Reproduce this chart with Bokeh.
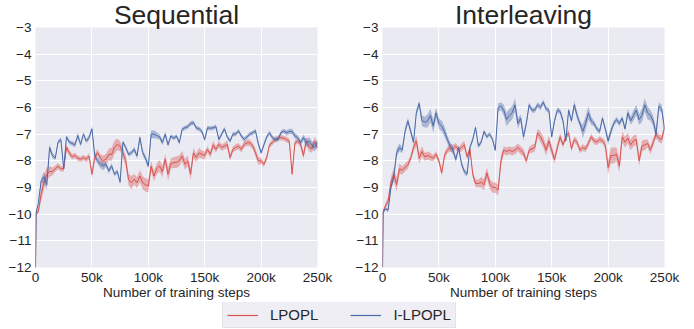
from bokeh.plotting import figure
from bokeh.layouts import column, row
from bokeh.models import FixedTicker, Legend, LegendItem, Range1d
from bokeh.embed import file_html
from bokeh.resources import INLINE

# ---------------- data ----------------
steps = [0, 500] + [2500 * i for i in range(1, 101)]

seq_lpopl = [-12, -9.95,
    -9.9, -9.25, -8.8, -8.5, -8.4, -8.4, -8.3, -8.2, -8.3, -8.3,
    -7.5, -7.7, -7.85, -7.8, -7.9, -7.94, -7.88, -7.94, -7.82, -8.5,
    -7.88, -7.69, -7.9, -8.0, -7.94, -7.76, -7.76, -7.5, -7.38, -7.45,
    -7.7, -8.0, -8.7, -8.82, -8.69, -8.82, -8.57, -8.82, -8.9, -8.94,
    -8.2, -8.57, -8.3, -8.19, -8.4, -7.94, -8.5, -8.1, -8.07, -8.05,
    -8.0, -7.82, -8.13, -8.0, -8.5, -7.7, -7.88, -7.7, -7.76, -7.8,
    -7.57, -7.76, -7.4, -7.57, -7.38, -7.5, -7.45, -7.38, -7.88, -7.57,
    -7.5, -7.45, -7.57, -7.38, -7.32, -7.32, -7.44, -7.69, -8.0, -8.0,
    -8.13, -7.88, -7.4, -7.32, -7.2, -7.15, -7.13, -7.15, -7.2, -7.26,
    -8.5, -7.32, -7.26, -7.38, -7.8, -7.26, -7.5, -7.55, -7.26, -7.5]
seq_lpopl_sd = [0.0, 0.05,
    0.1, 0.25, 0.3, 0.25, 0.2, 0.15, 0.12, 0.12, 0.1, 0.1,
    0.12, 0.12, 0.1, 0.1, 0.1, 0.1, 0.1, 0.1, 0.12, 0.15,
    0.15, 0.12, 0.15, 0.2, 0.2, 0.22, 0.25, 0.25, 0.22, 0.18,
    0.2, 0.2, 0.22, 0.25, 0.2, 0.2, 0.22, 0.25, 0.25, 0.25,
    0.2, 0.2, 0.2, 0.22, 0.22, 0.2, 0.25, 0.2, 0.2, 0.22,
    0.2, 0.2, 0.2, 0.2, 0.2, 0.18, 0.15, 0.18, 0.15, 0.15,
    0.12, 0.12, 0.15, 0.12, 0.12, 0.12, 0.12, 0.15, 0.12, 0.12,
    0.12, 0.12, 0.12, 0.12, 0.12, 0.12, 0.12, 0.15, 0.15, 0.12,
    0.1, 0.1, 0.1, 0.1, 0.1, 0.1, 0.1, 0.1, 0.1, 0.1,
    0.1, 0.1, 0.1, 0.12, 0.15, 0.15, 0.15, 0.15, 0.15, 0.15]

seq_ilpopl = [-12, -9.95,
    -9.6, -8.75, -8.6, -8.9, -7.5, -7.8, -7.9, -7.3, -7.2, -8.3,
    -7.1, -7.3, -7.35, -7.4, -7.05, -7.38, -7.0, -7.26, -7.13, -6.8,
    -7.8, -8.0, -8.13, -8.2, -8.13, -8.38, -8.19, -8.5, -8.4, -8.8,
    -7.3, -7.5, -7.76, -7.7, -7.57, -7.82, -7.13, -7.69, -7.9, -8.2,
    -7.0, -7.0, -7.05, -7.1, -7.32, -7.0, -7.4, -7.07, -7.15, -7.07,
    -7.32, -6.82, -6.76, -6.72, -6.6, -6.57, -6.76, -6.8, -6.9, -7.2,
    -6.76, -6.78, -6.76, -6.72, -7.2, -7.0, -6.8, -7.1, -7.26, -7.0,
    -7.0, -6.88, -7.07, -7.2, -7.1, -7.0, -6.95, -6.88, -7.35, -7.7,
    -7.4, -7.1, -6.95, -7.13, -7.2, -7.2, -6.95, -6.88, -6.95, -6.9,
    -6.9, -7.07, -7.13, -7.32, -7.13, -7.32, -7.26, -7.4, -7.5, -7.32]
seq_ilpopl_sd = [0.0, 0.05,
    0.05, 0.1, 0.2, 0.2, 0.12, 0.1, 0.08, 0.08, 0.08, 0.1,
    0.08, 0.08, 0.08, 0.1, 0.1, 0.08, 0.08, 0.08, 0.1, 0.1,
    0.1, 0.12, 0.15, 0.15, 0.1, 0.1, 0.1, 0.08, 0.08, 0.08,
    0.08, 0.08, 0.08, 0.08, 0.1, 0.1, 0.12, 0.1, 0.12, 0.12,
    0.15, 0.15, 0.12, 0.1, 0.1, 0.1, 0.08, 0.08, 0.08, 0.08,
    0.08, 0.08, 0.08, 0.08, 0.08, 0.08, 0.08, 0.08, 0.08, 0.08,
    0.08, 0.08, 0.08, 0.08, 0.08, 0.08, 0.08, 0.08, 0.08, 0.08,
    0.08, 0.08, 0.08, 0.08, 0.08, 0.08, 0.08, 0.08, 0.08, 0.08,
    0.08, 0.08, 0.08, 0.08, 0.08, 0.08, 0.08, 0.08, 0.1, 0.1,
    0.1, 0.1, 0.1, 0.1, 0.12, 0.15, 0.15, 0.15, 0.15, 0.15]

int_lpopl = [-12, -9.9,
    -9.7, -9.5, -8.8, -8.5, -8.9, -8.3, -8.35, -8.25, -8.15, -7.9,
    -7.5, -7.25, -7.9, -7.65, -7.85, -7.8, -7.85, -7.9, -7.75, -8.0,
    -8.45, -7.8, -7.6, -7.5, -7.55, -7.45, -7.6, -7.5, -7.4, -7.85,
    -7.55, -8.5, -8.85, -8.85, -8.8, -8.9, -8.45, -8.85, -9.0, -9.0,
    -9.1, -8.0, -7.6, -7.65, -7.6, -7.65, -7.6, -7.5, -7.6, -7.7,
    -8.0, -7.6, -7.55, -7.5, -6.95, -7.1, -7.3, -7.6, -7.25, -7.6,
    -7.95, -7.5, -7.1, -7.4, -7.1, -6.95, -7.55, -7.2, -7.3, -7.6,
    -7.5, -7.55, -7.35, -7.1, -7.25, -7.3, -7.2, -7.25, -7.4, -8.25,
    -7.8, -7.8, -7.75, -8.2, -7.1, -7.3, -7.15, -7.4, -7.25, -7.2,
    -8.0, -7.45, -7.4, -7.35, -7.6, -7.3, -7.0, -7.15, -7.2, -6.75]
int_lpopl_sd = [0.0, 0.05,
    0.1, 0.15, 0.2, 0.25, 0.25, 0.2, 0.15, 0.15, 0.15, 0.12,
    0.15, 0.2, 0.2, 0.2, 0.15, 0.15, 0.15, 0.12, 0.12, 0.12,
    0.12, 0.12, 0.12, 0.15, 0.15, 0.12, 0.12, 0.15, 0.15, 0.12,
    0.12, 0.12, 0.15, 0.15, 0.2, 0.2, 0.2, 0.2, 0.2, 0.2,
    0.2, 0.2, 0.15, 0.15, 0.15, 0.15, 0.15, 0.15, 0.15, 0.15,
    0.12, 0.12, 0.15, 0.15, 0.15, 0.2, 0.2, 0.2, 0.2, 0.2,
    0.15, 0.15, 0.15, 0.12, 0.12, 0.12, 0.12, 0.12, 0.12, 0.12,
    0.12, 0.12, 0.12, 0.12, 0.12, 0.12, 0.12, 0.12, 0.15, 0.25,
    0.3, 0.3, 0.25, 0.25, 0.2, 0.2, 0.2, 0.2, 0.2, 0.2,
    0.2, 0.2, 0.2, 0.15, 0.15, 0.15, 0.15, 0.15, 0.15, 0.15]

int_ilpopl = [-12, -9.95,
    -9.8, -9.85, -9.0, -8.6, -7.7, -7.5, -7.6, -6.9, -6.5, -6.9,
    -7.3, -6.2, -5.85, -6.5, -6.55, -6.5, -6.3, -6.7, -6.2, -6.6,
    -6.7, -6.9, -7.2, -7.45, -7.6, -7.95, -7.5, -8.1, -8.4, -8.5,
    -7.5, -7.2, -6.75, -7.45, -7.3, -6.9, -7.1, -7.0, -7.2, -7.6,
    -6.0, -5.95, -6.1, -6.45, -6.3, -6.2, -5.9, -6.6, -6.4, -7.1,
    -6.6, -5.9, -6.1, -6.1, -5.9, -6.0, -5.8, -6.05, -6.1, -7.1,
    -6.5, -6.1, -6.15, -6.5, -7.25, -6.1, -6.5, -5.9, -6.3, -6.6,
    -6.9, -6.6, -6.2, -6.5, -6.6, -6.8, -6.9, -6.4, -6.8, -7.25,
    -6.9, -6.6, -6.45, -6.6, -6.4, -6.8, -6.2, -6.5, -6.3, -6.1,
    -6.45, -6.3, -5.9, -6.2, -6.3, -6.5, -7.0, -5.95, -6.05, -6.8]
int_ilpopl_sd = [0.0, 0.05,
    0.05, 0.08, 0.1, 0.15, 0.15, 0.15, 0.12, 0.12, 0.12, 0.12,
    0.12, 0.12, 0.12, 0.2, 0.2, 0.25, 0.25, 0.25, 0.2, 0.2,
    0.2, 0.2, 0.15, 0.15, 0.15, 0.1, 0.1, 0.1, 0.1, 0.1,
    0.08, 0.08, 0.08, 0.08, 0.08, 0.08, 0.08, 0.08, 0.08, 0.08,
    0.15, 0.15, 0.2, 0.25, 0.25, 0.25, 0.25, 0.2, 0.15, 0.15,
    0.12, 0.1, 0.1, 0.1, 0.1, 0.1, 0.1, 0.1, 0.1, 0.1,
    0.1, 0.1, 0.1, 0.1, 0.1, 0.1, 0.1, 0.15, 0.15, 0.1,
    0.25, 0.25, 0.25, 0.15, 0.1, 0.1, 0.1, 0.1, 0.1, 0.15,
    0.15, 0.1, 0.1, 0.1, 0.1, 0.1, 0.15, 0.15, 0.2, 0.2,
    0.2, 0.25, 0.25, 0.25, 0.2, 0.2, 0.2, 0.15, 0.15, 0.15]

panel_titles = ["Sequential", "Interleaving"]
series_names = ["LPOPL", "I-LPOPL"]
x_ticks = [0, 50000, 100000, 150000, 200000, 250000]
x_tick_labels = ["0", "50k", "100k", "150k", "200k", "250k"]
y_ticks = [-12, -11, -10, -9, -8, -7, -6, -5, -4, -3]
y_tick_labels = ["\u221212", "\u221211", "\u221210", "\u22129", "\u22128",
                 "\u22127", "\u22126", "\u22125", "\u22124", "\u22123"]
x_label = "Number of training steps"

# ---------------- style ----------------
RED = "#d9534f"
BLUE = "#4a6aa8"
BG = "#eaeaf2"
TXT = "#262626"
FONT = "Liberation Sans"


def make_panel(title, red, red_sd, blue, blue_sd):
    p = figure(width=347, height=302, output_backend="svg", toolbar_location=None,
               x_range=Range1d(0, 250000), y_range=Range1d(-12, -3),
               min_border_left=35, min_border_right=30,
               min_border_top=0, min_border_bottom=0)
    p.background_fill_color = BG
    p.border_fill_color = "white"
    p.outline_line_color = None
    p.title.text = title
    p.title.align = "center"
    p.title.text_font = FONT
    p.title.text_font_size = "26.5px"
    p.title.text_font_style = "normal"
    p.title.text_color = TXT
    p.title.standoff = -5
    p.title.offset = 0

    p.xaxis.ticker = FixedTicker(ticks=x_ticks)
    p.xaxis.major_label_overrides = dict(zip(x_ticks, x_tick_labels))
    p.yaxis.ticker = FixedTicker(ticks=y_ticks)
    p.yaxis.major_label_overrides = dict(zip(y_ticks, y_tick_labels))
    p.xaxis.axis_label = x_label
    for ax in (p.xaxis, p.yaxis):
        ax.axis_line_color = None
        ax.major_tick_line_color = None
        ax.minor_tick_line_color = None
        ax.major_tick_out = 0
        ax.major_tick_in = 0
        ax.minor_tick_out = 0
        ax.minor_tick_in = 0
        ax.major_label_text_font = FONT
        ax.major_label_text_font_size = "13.5px"
        ax.major_label_text_color = TXT
    p.xaxis.major_label_standoff = 2
    p.yaxis.major_label_standoff = 4
    p.xaxis.axis_label_text_font = FONT
    p.xaxis.axis_label_text_font_size = "13.5px"
    p.xaxis.axis_label_text_font_style = "normal"
    p.xaxis.axis_label_text_color = TXT
    p.xaxis.axis_label_standoff = -3
    p.xgrid.ticker = FixedTicker(ticks=x_ticks)
    p.ygrid.ticker = FixedTicker(ticks=y_ticks)
    for g in (p.xgrid, p.ygrid):
        g.grid_line_color = "white"
        g.grid_line_width = 1

    red_lo = [m - s for m, s in zip(red, red_sd)]
    red_hi = [m + s for m, s in zip(red, red_sd)]
    blue_lo = [m - s for m, s in zip(blue, blue_sd)]
    blue_hi = [m + s for m, s in zip(blue, blue_sd)]
    p.varea(x=steps, y1=red_lo, y2=red_hi, fill_color=RED, fill_alpha=0.4)
    p.line(steps, red, line_color=RED, line_width=1)
    p.varea(x=steps, y1=blue_lo, y2=blue_hi, fill_color=BLUE, fill_alpha=0.4)
    p.line(steps, blue, line_color=BLUE, line_width=1)
    return p


p1 = make_panel(panel_titles[0], seq_lpopl, seq_lpopl_sd, seq_ilpopl, seq_ilpopl_sd)
p2 = make_panel(panel_titles[1], int_lpopl, int_lpopl_sd, int_ilpopl, int_ilpopl_sd)

# legend strip (dummy renderers lie outside the visible range)
pl = figure(width=694, height=26, output_backend="svg", toolbar_location=None,
            x_range=Range1d(0, 1), y_range=Range1d(0, 1),
            min_border=0)
pl.axis.visible = False
pl.grid.visible = False
pl.outline_line_color = None
pl.background_fill_color = "white"
pl.border_fill_color = "white"
r_red = pl.line([5, 6], [5, 6], line_color=RED, line_width=1.2)
r_blue = pl.line([5, 6], [5, 6], line_color=BLUE, line_width=1.2)
leg = Legend(items=[LegendItem(label=series_names[0], renderers=[r_red]),
                    LegendItem(label=series_names[1], renderers=[r_blue])],
             orientation="horizontal", location=(222, 0))
leg.label_text_font = FONT
leg.label_text_font_size = "15px"
leg.label_text_color = TXT
leg.glyph_width = 31
leg.glyph_height = 16
leg.label_height = 16
leg.label_standoff = 12
leg.spacing = 32
leg.padding = 4
leg.margin = 0
leg.background_fill_color = "#eeeef4"
leg.background_fill_alpha = 1.0
leg.border_line_color = "#d4d4dc"
leg.border_line_width = 1
pl.add_layout(leg, "center")

layout = column(row(p1, p2), pl)
open("out.html", "w").write(file_html(layout, INLINE))
